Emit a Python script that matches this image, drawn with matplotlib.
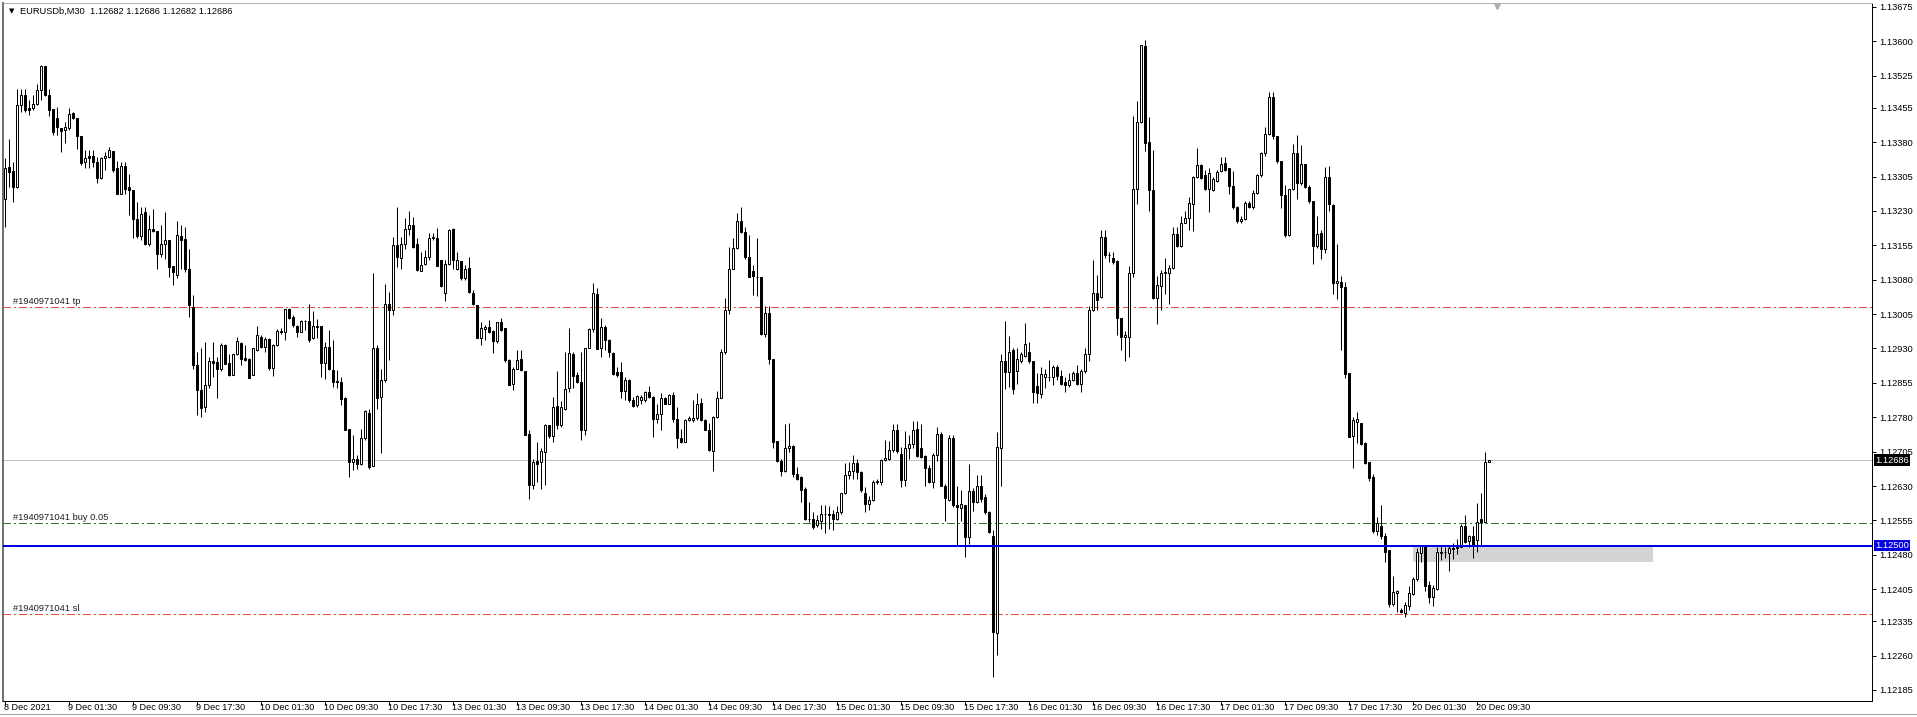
import numpy as np
import pandas as pd
import matplotlib
matplotlib.use('Agg')
import matplotlib.pyplot as plt
import matplotlib.transforms as mtrans
from matplotlib.patches import Rectangle

plt.rcParams['font.family'] = ['Liberation Sans', 'DejaVu Sans']

# EURUSDb M30, prices in points: 13257 -> 1.13257
opens = [
    13257, 13326, 13317, 13283, 13461, 13484, 13455, 13455, 13464, 13494,
    13546, 13484, 13452, 13432, 13411, 13406, 13412, 13443, 13433, 13393,
    13336, 13350, 13350, 13336, 13302, 13345, 13348, 13361, 13323, 13266,
    13328, 13282, 13275, 13212, 13176, 13228, 13157, 13190, 13186, 13137,
    13158, 13166, 13110, 13090, 13175, 13169, 13104, 13021, 12895, 12839,
    12803, 12851, 12902, 12901, 12886, 12937, 12899, 12873, 12917, 12943,
    12910, 12908, 12873, 12926, 12955, 12934, 12950, 12888, 12937, 12966,
    12965, 13016, 12999, 12980, 12966, 12990, 12990, 12952, 12979, 12979,
    12899, 12934, 12883, 12859, 12856, 12822, 12755, 12683, 12690, 12677,
    12734, 12790, 12674, 12932, 12824, 12861, 13026, 13014, 13155, 13128,
    13157, 13190, 13199, 13157, 13099, 13115, 13130, 13170, 13172, 13123,
    13052, 13115, 13190, 13103, 13120, 13084, 13106, 13050, 13024, 12952,
    12972, 12977, 12968, 12946, 12987, 12974, 12904, 12853, 12886, 12907,
    12880, 12744, 12633, 12684, 12683, 12704, 12764, 12739, 12805, 12763,
    12799, 12843, 12919, 12872, 12856, 12752, 12931, 12972, 13048, 12930,
    12977, 12948, 12921, 12879, 12879, 12838, 12862, 12817, 12806, 12817,
    12817, 12834, 12825, 12777, 12788, 12821, 12810, 12828, 12777, 12734,
    12726, 12774, 12775, 12779, 12811, 12775, 12753, 12707, 12781, 12823,
    12923, 13015, 13104, 13150, 13209, 13185, 13130, 13099, 13086, 13086,
    12961, 13008, 12906, 12728, 12685, 12663, 12712, 12717, 12657, 12650,
    12624, 12559, 12557, 12544, 12554, 12570, 12568, 12570, 12559, 12574,
    12614, 12654, 12663, 12681, 12661, 12615, 12590, 12599, 12639, 12639,
    12686, 12688, 12708, 12752, 12699, 12643, 12713, 12721, 12755, 12713,
    12695, 12670, 12638, 12698, 12743, 12631, 12600, 12734, 12588, 12582,
    12588, 12518, 12620, 12595, 12629, 12607, 12574, 12522, 12310, 12713,
    12903, 12878, 12926, 12880, 12903, 12914, 12922, 12903, 12848, 12830,
    12868, 12868, 12868, 12890, 12871, 12856, 12850, 12862, 12876, 12853,
    12880, 12917, 13013, 13051, 13042, 13173, 13134, 13127, 13120, 12996,
    12956, 12956, 13095, 13279, 13425, 13590, 13380, 13276, 13040, 13066,
    13095, 13095, 13106, 13179, 13154, 13204, 13215, 13246, 13305, 13330,
    13309, 13278, 13275, 13296, 13317, 13335, 13323, 13285, 13238, 13208,
    13212, 13248, 13238, 13270, 13308, 13356, 13399, 13478, 13393, 13338,
    13264, 13178, 13278, 13356, 13290, 13333, 13283, 13251, 13153, 13183,
    13148, 13305, 13243, 13073, 13076, 13065, 12877, 12740, 12770, 12768,
    12723, 12682, 12650, 12532, 12542, 12521, 12491, 12372, 12397, 12359,
    12352, 12369, 12395, 12427, 12483, 12502, 12414, 12387, 12406, 12483,
    12487, 12483, 12494, 12494, 12498, 12542, 12509, 12522, 12513, 12557,
    12551, 12682,
]
highs = [
    13345, 13388, 13336, 13497, 13497, 13497, 13472, 13484, 13508, 13548,
    13546, 13497, 13452, 13457, 13411, 13425, 13455, 13445, 13433, 13393,
    13363, 13363, 13363, 13348, 13348, 13359, 13370, 13361, 13339, 13337,
    13337, 13310, 13275, 13250, 13239, 13239, 13221, 13235, 13186, 13199,
    13228, 13166, 13110, 13208, 13200, 13195, 13148, 13046, 12923, 12930,
    12944, 12912, 12944, 12912, 12941, 12939, 12919, 12919, 12955, 12945,
    12937, 12910, 12931, 12979, 12959, 12955, 12952, 12939, 12972, 12974,
    13017, 13019, 13003, 12981, 12992, 12992, 13028, 13011, 12995, 12979,
    12944, 12970, 12948, 12883, 12868, 12824, 12755, 12742, 12697, 12755,
    12795, 12799, 13094, 12937, 12886, 13070, 13054, 13174, 13239, 13174,
    13214, 13230, 13217, 13170, 13141, 13144, 13181, 13183, 13193, 13123,
    13123, 13190, 13192, 13141, 13120, 13112, 13130, 13057, 13024, 12988,
    12981, 12992, 12970, 12988, 12997, 12974, 12908, 12890, 12926, 12926,
    12880, 12752, 12690, 12726, 12713, 12766, 12764, 12824, 12880, 12815,
    12923, 12975, 12923, 12879, 12923, 12931, 12975, 13072, 13062, 12997,
    12981, 12950, 12923, 12890, 12901, 12868, 12864, 12825, 12828, 12828,
    12838, 12848, 12826, 12810, 12832, 12825, 12830, 12835, 12803, 12755,
    12777, 12782, 12817, 12832, 12823, 12777, 12768, 12782, 12838, 12928,
    13041, 13152, 13170, 13225, 13238, 13195, 13177, 13112, 13172, 13086,
    13022, 13022, 12906, 12728, 12688, 12765, 12768, 12719, 12672, 12651,
    12627, 12595, 12574, 12566, 12588, 12588, 12586, 12577, 12586, 12615,
    12681, 12683, 12697, 12690, 12663, 12627, 12608, 12644, 12646, 12690,
    12730, 12728, 12766, 12766, 12715, 12750, 12741, 12771, 12771, 12766,
    12698, 12675, 12701, 12759, 12748, 12634, 12741, 12741, 12629, 12622,
    12588, 12677, 12625, 12655, 12655, 12613, 12576, 12533, 12748, 12917,
    12990, 12958, 12932, 12931, 12923, 12985, 12944, 12903, 12876, 12889,
    12885, 12905, 12894, 12894, 12883, 12867, 12876, 12880, 12894, 12885,
    12931, 13022, 13122, 13090, 13188, 13188, 13141, 13141, 13122, 12996,
    12969, 13109, 13437, 13469, 13593, 13602, 13435, 13364, 13088, 13102,
    13127, 13113, 13195, 13195, 13218, 13230, 13261, 13307, 13367, 13332,
    13320, 13324, 13305, 13320, 13348, 13348, 13323, 13317, 13240, 13219,
    13251, 13251, 13275, 13311, 13358, 13414, 13489, 13489, 13393, 13338,
    13287, 13278, 13377, 13396, 13375, 13333, 13287, 13251, 13219, 13189,
    13326, 13328, 13245, 13158, 13088, 13075, 12877, 12780, 12792, 12768,
    12727, 12682, 12656, 12562, 12588, 12528, 12491, 12434, 12404, 12364,
    12378, 12412, 12431, 12494, 12502, 12502, 12423, 12414, 12498, 12500,
    12498, 12502, 12506, 12515, 12547, 12566, 12524, 12543, 12592, 12615,
    12705, 12686,
]
lows = [
    13195, 13283, 13250, 13280, 13445, 13445, 13440, 13450, 13461, 13472,
    13481, 13438, 13395, 13395, 13358, 13379, 13406, 13430, 13366, 13330,
    13324, 13323, 13326, 13292, 13299, 13319, 13345, 13315, 13266, 13266,
    13266, 13222, 13170, 13171, 13166, 13155, 13154, 13184, 13104, 13130,
    13126, 13086, 13068, 13083, 13104, 13097, 12999, 12886, 12784, 12781,
    12792, 12843, 12868, 12822, 12881, 12897, 12870, 12872, 12915, 12894,
    12902, 12865, 12872, 12924, 12930, 12923, 12883, 12870, 12936, 12961,
    12948, 12995, 12977, 12955, 12965, 12970, 12944, 12950, 12952, 12868,
    12864, 12883, 12846, 12843, 12806, 12752, 12650, 12664, 12668, 12675,
    12730, 12668, 12674, 12799, 12701, 12857, 12904, 13003, 13108, 13104,
    13148, 13177, 13150, 13099, 13099, 13112, 13123, 13166, 13110, 13064,
    13033, 13112, 13104, 13101, 13079, 13079, 13052, 13024, 12952, 12937,
    12948, 12963, 12921, 12943, 12968, 12901, 12850, 12839, 12885, 12880,
    12741, 12601, 12624, 12638, 12624, 12632, 12734, 12726, 12755, 12759,
    12795, 12835, 12843, 12854, 12730, 12742, 12930, 12966, 12928, 12912,
    12926, 12912, 12872, 12868, 12821, 12817, 12814, 12803, 12803, 12810,
    12814, 12823, 12737, 12768, 12752, 12808, 12808, 12770, 12714, 12724,
    12726, 12772, 12770, 12774, 12772, 12752, 12707, 12663, 12779, 12821,
    12919, 13006, 13104, 13148, 13182, 13126, 13085, 13046, 13044, 12959,
    12955, 12897, 12712, 12683, 12651, 12661, 12704, 12649, 12643, 12595,
    12555, 12552, 12537, 12541, 12537, 12528, 12537, 12534, 12555, 12570,
    12612, 12646, 12646, 12646, 12617, 12574, 12577, 12598, 12635, 12632,
    12685, 12686, 12704, 12701, 12628, 12629, 12689, 12712, 12693, 12691,
    12631, 12637, 12625, 12684, 12629, 12554, 12597, 12585, 12501, 12554,
    12476, 12503, 12576, 12593, 12595, 12570, 12527, 12214, 12262, 12631,
    12841, 12847, 12830, 12853, 12899, 12912, 12899, 12812, 12812, 12821,
    12844, 12859, 12850, 12862, 12850, 12834, 12847, 12858, 12850, 12834,
    12876, 12903, 13011, 13015, 13040, 13127, 13118, 13115, 12960, 12926,
    12903, 12912, 13086, 13246, 13422, 13360, 13230, 13038, 12984, 13015,
    13049, 13026, 13104, 13152, 13152, 13203, 13188, 13186, 13303, 13300,
    13275, 13227, 13273, 13294, 13315, 13318, 13268, 13234, 13204, 13203,
    13210, 13236, 13234, 13268, 13305, 13351, 13396, 13388, 13335, 13236,
    13173, 13176, 13275, 13257, 13287, 13281, 13248, 13115, 13150, 13125,
    13138, 13230, 13048, 13037, 12926, 12865, 12737, 12669, 12723, 12720,
    12678, 12641, 12528, 12524, 12515, 12464, 12367, 12369, 12355, 12352,
    12344, 12359, 12393, 12423, 12464, 12401, 12374, 12369, 12404, 12468,
    12472, 12444, 12470, 12482, 12497, 12506, 12497, 12474, 12485, 12502,
    12549, 12682,
]
closes = [
    13323, 13314, 13283, 13461, 13484, 13450, 13451, 13464, 13494, 13547,
    13483, 13450, 13403, 13414, 13404, 13414, 13441, 13432, 13394, 13334,
    13345, 13346, 13336, 13302, 13345, 13350, 13362, 13319, 13266, 13328,
    13278, 13275, 13212, 13176, 13223, 13157, 13190, 13186, 13137, 13158,
    13166, 13107, 13097, 13177, 13166, 13104, 13024, 12895, 12839, 12800,
    12851, 12902, 12899, 12886, 12937, 12897, 12872, 12917, 12946, 12907,
    12904, 12866, 12930, 12959, 12934, 12950, 12888, 12937, 12968, 12968,
    13017, 12997, 12981, 12966, 12990, 12989, 12948, 12979, 12976, 12899,
    12934, 12885, 12856, 12857, 12819, 12752, 12683, 12690, 12677, 12734,
    12793, 12672, 12932, 12821, 12861, 13028, 13014, 13155, 13130, 13157,
    13190, 13199, 13152, 13101, 13113, 13130, 13171, 13174, 13110, 13067,
    13115, 13188, 13123, 13123, 13083, 13104, 13054, 13026, 12952, 12974,
    12977, 12966, 12946, 12987, 12970, 12904, 12851, 12886, 12904, 12883,
    12741, 12632, 12683, 12679, 12706, 12764, 12739, 12803, 12763, 12802,
    12841, 12921, 12870, 12856, 12752, 12931, 12972, 13050, 12928, 12977,
    12948, 12923, 12874, 12872, 12838, 12862, 12817, 12804, 12826, 12825,
    12834, 12825, 12777, 12787, 12821, 12810, 12828, 12777, 12734, 12726,
    12775, 12779, 12779, 12810, 12774, 12753, 12708, 12781, 12823, 12923,
    13015, 13104, 13150, 13209, 13185, 13130, 13086, 13088, 13085, 12961,
    13008, 12906, 12726, 12685, 12663, 12712, 12717, 12656, 12646, 12622,
    12557, 12557, 12541, 12555, 12570, 12568, 12566, 12559, 12574, 12614,
    12654, 12663, 12681, 12661, 12621, 12590, 12599, 12639, 12641, 12686,
    12691, 12708, 12752, 12707, 12643, 12712, 12722, 12753, 12695, 12693,
    12670, 12638, 12698, 12743, 12631, 12604, 12734, 12588, 12584, 12591,
    12518, 12620, 12595, 12631, 12602, 12573, 12529, 12312, 12716, 12903,
    12878, 12923, 12841, 12908, 12917, 12940, 12902, 12835, 12832, 12874,
    12874, 12868, 12890, 12871, 12853, 12850, 12862, 12876, 12853, 12880,
    12917, 13013, 13051, 13036, 13173, 13133, 13133, 13118, 12996, 12956,
    12960, 13095, 13279, 13425, 13593, 13378, 13276, 13040, 13068, 13095,
    13097, 13106, 13179, 13154, 13204, 13215, 13248, 13305, 13331, 13303,
    13278, 13313, 13300, 13315, 13333, 13320, 13285, 13238, 13208, 13213,
    13248, 13238, 13270, 13308, 13356, 13399, 13478, 13393, 13338, 13264,
    13178, 13278, 13356, 13290, 13333, 13283, 13251, 13153, 13180, 13148,
    13305, 13245, 13073, 13078, 13065, 12875, 12738, 12775, 12776, 12722,
    12680, 12648, 12532, 12549, 12521, 12487, 12372, 12399, 12401, 12355,
    12370, 12397, 12427, 12485, 12500, 12412, 12387, 12408, 12485, 12487,
    12485, 12494, 12492, 12498, 12542, 12507, 12521, 12502, 12552, 12551,
    12682, 12686,
]

first_bar = '2021-12-08 17:30'
symbol = 'EURUSDb,M30'
order_id = '#1940971041'
tp_price = 1.13020
open_price = 1.12550
sl_price = 1.12350
level_price = 1.12500
zone_top, zone_bottom = 1.12500, 1.12465
zone_from, zone_to = 352, 412          # bar numbers
price_ticks = ['1.13675', '1.13600', '1.13525', '1.13455', '1.13380', '1.13305',
               '1.13230', '1.13155', '1.13080', '1.13005', '1.12930', '1.12855',
               '1.12780', '1.12705', '1.12630', '1.12555', '1.12480', '1.12405',
               '1.12335', '1.12260', '1.12185']

o = 1 + np.array(opens) / 1e5
h = 1 + np.array(highs) / 1e5
l = 1 + np.array(lows) / 1e5
c = 1 + np.array(closes) / 1e5
n = len(c)
x = np.arange(n)

times = pd.date_range(first_bar, periods=n * 2, freq='30min')
times = times[times.dayofweek < 5][:n]

W, H = 1917, 717
fig = plt.figure(figsize=(W / 100, H / 100), dpi=100)
fig.patch.set_facecolor('white')
ax = fig.add_axes([3 / W, 1 - 701 / H, (1872 - 3) / W, (701 - 3) / H])
ax.set_xlim(-0.5, 466.75)
ax.set_ylim(1.121610, 1.136837)

PX = 0.72  # one pixel in points
dashdot = (0, (7, 3, 1.5, 3))

# trade levels
ax.axhline(tp_price, color='#E8502A', lw=PX, ls=dashdot, zorder=1, antialiased=False)
ax.axhline(sl_price, color='#E8502A', lw=PX, ls=dashdot, zorder=1, antialiased=False)
ax.axhline(open_price, color='#2B7A2B', lw=PX, ls=dashdot, zorder=1, antialiased=False)
ax.axhline(c[-1], color='#C0C0C0', lw=PX, zorder=1, antialiased=False)
ax.add_patch(Rectangle((zone_from, zone_bottom), zone_to - zone_from, zone_top - zone_bottom,
                       facecolor='#D3D3D3', edgecolor='none', zorder=1))
ax.axhline(level_price, color='#0000E0', lw=2 * PX, zorder=4, antialiased=False)

# candles
ax.vlines(x, l, h, color='black', lw=PX, zorder=2)
up = c >= o
ax.bar(x[up], c[up] - o[up], bottom=o[up], width=0.5, facecolor='white',
       edgecolor='black', lw=PX, zorder=3)
ax.bar(x[~up], c[~up] - o[~up], bottom=o[~up], width=0.5, facecolor='black',
       edgecolor='black', lw=PX, zorder=3)

lbl = dict(fontsize=6.7, color='#202020', va='bottom', ha='left')
ax.text(2, tp_price + 0.00002, order_id + ' tp', **lbl)
ax.text(2, open_price + 0.00002, order_id + ' buy 0.05', **lbl)
ax.text(2, sl_price + 0.00002, order_id + ' sl', **lbl)

# price axis on the right
ax.yaxis.tick_right()
ax.set_yticks([float(t) for t in price_ticks])
ax.set_yticklabels(price_ticks)
ax.tick_params(axis='y', length=3, width=PX, pad=2, labelsize=6.7, colors='black')

# time axis
marks = [0] + [i for i, t in enumerate(times) if t.minute == 30 and t.hour in (1, 9, 17) and i > 0]
ax.set_xticks(marks)
ax.set_xticklabels([])
ax.tick_params(axis='x', length=3, width=PX, direction='out', colors='black')
for i in marks:
    t = times[i]
    txt = f'{t.day} {t:%b} {t.year}' if i == 0 else f'{t.day} {t:%b} {t:%H:%M}'
    ax.text(i - 0.3, -0.003, txt, transform=mtrans.blended_transform_factory(ax.transData, ax.transAxes),
            fontsize=6.6, ha='left', va='top', color='black')

for side in ['right', 'bottom']:
    ax.spines[side].set_color('black')
    ax.spines[side].set_linewidth(PX)
ax.spines['left'].set_color('#707070')
ax.spines['left'].set_linewidth(2 * PX)
ax.spines['top'].set_color('#B0B0B0')
ax.spines['top'].set_linewidth(PX)

# price tags on the axis
tr = mtrans.blended_transform_factory(fig.transFigure, ax.transData)
for price, face in [(c[-1], 'black'), (level_price, '#0000E0')]:
    fig.text(1875 / W, price, f'{price:.5f}', transform=tr, fontsize=6.7, color='white',
             va='center', ha='left',
             bbox=dict(boxstyle='square,pad=0.15', facecolor=face, edgecolor='none'))

# header
fig.text(12 / W, 1 - 11 / H, '\u25bc', fontsize=5, ha='center', va='center', family='DejaVu Sans')
fig.text(20 / W, 1 - 11 / H,
         f'{symbol}  {o[-1]:.5f} {h[-1]:.5f} {l[-1]:.5f} {c[-1]:.5f}',
         fontsize=6.7, ha='left', va='center', color='black')

# chart shift marker
ax.plot([373.0], [0.995], marker='v', color='#B0B0B0', ms=5, mec='#B0B0B0', clip_on=False,
        transform=mtrans.blended_transform_factory(ax.transData, ax.transAxes))

# bottom border
fig.add_artist(plt.Line2D([0, 1], [1 - 714 / H, 1 - 714 / H], color='#A0A0A0', lw=PX))

fig.savefig('out.png', dpi=100, facecolor='white')
